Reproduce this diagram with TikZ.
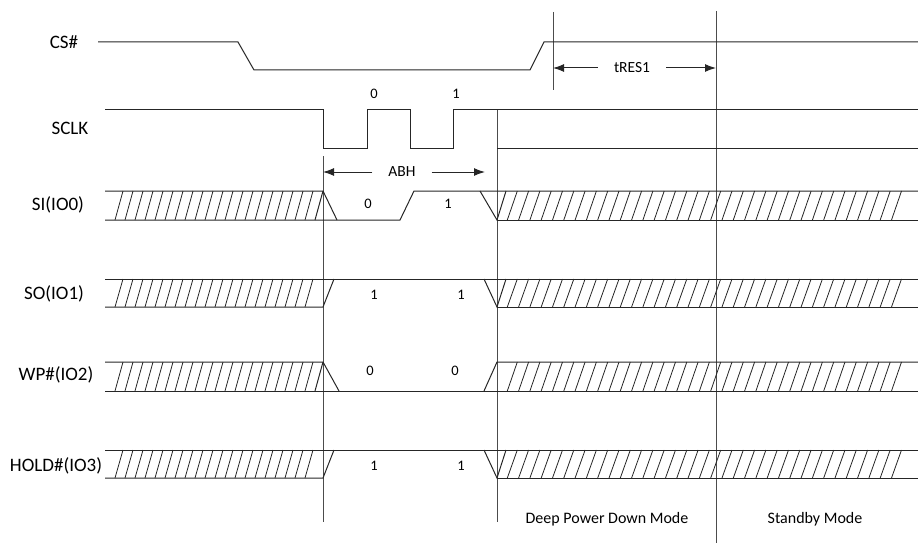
\documentclass[tikz,border=0pt]{standalone}
\usepackage{fontspec}
\setmainfont{Carlito}
\usetikzlibrary{arrows.meta, positioning}

\tikzset{
  sig/.style={line width=1pt, black!85},
  guide/.style={line width=1pt, black!70},
  hatchline/.style={line width=0.8pt, black!85},
  lbl/.style={font=\fontsize{19}{22}\selectfont, inner sep=0pt},
  bit/.style={font=\fontsize{14.5}{17}\selectfont, inner sep=0pt},
  note/.style={font=\fontsize{15.5}{18}\selectfont, inner ysep=0pt, inner xsep=16pt},
  mode/.style={font=\fontsize{16}{19}\selectfont, inner sep=0pt},
}

\begin{document}
\begin{tikzpicture}[x=1pt, y=-1pt, >={Latex[length=11pt,width=8pt]}]
  \useasboundingbox (0,0) rectangle (918,543);
  % Signal names
  \node[lbl] (cs)   at (64,42)  {CS\#};
  \node[lbl] (sclk) at (70,128) {SCLK};
  \node[lbl] (si)   at (58,205) {SI(IO0)};
  \node[lbl] (so)   at (54,294) {SO(IO1)};
  \node[lbl] (wp)   at (56,375) {WP\#(IO2)};
  \node[lbl] (hold) at (56,466) {HOLD\#(IO3)};
  % Guide lines
  \draw[guide] (323,156) coordinate (g1) -- (323,522);
  \draw[guide] (497,109) coordinate (g2) -- (497,522);
  \draw[guide] (553,12) coordinate (g3) -- (553,90);
  \draw[guide] (716,11) coordinate (g4) -- (716,543);
  % CS#
  \draw[sig] (98,42) -- (238,42) -- (254,70) -- (530,70) -- (544,42) -- (918,42);
  \node[note] (tres) at (632,68) {tRES1};
  \draw[sig, ->] (tres.west) -- (tres -| g3);
  \draw[sig, ->] (tres.east) -- (tres -| g4);
  % SCLK
  \draw[sig] (105,109) -- (323,109) -- (323,148) -- (367,148) -- (367,109)
    -- (410,109) -- (410,148) -- (453,148) -- (453,109) -- (918,109);
  \draw[sig] (497,148) -- (918,148);
  \node[bit] (c0) at (374,94) {0};
  \node[bit] (c1) at (456,94) {1};
  \node[note] (abh) at (402,172) {ABH};
  \coordinate (abhend) at (485,172);
  \draw[sig, ->] (abh.west) -- (abh -| g1);
  \draw[sig, ->] (abh.east) -- (abhend);
  % Hatched bus
  \foreach \t/\b in {191/220, 279/307, 362/391, 450/478} {
    \foreach \x in {115,125,...,305}
      \draw[hatchline] (\x,\b) -- (\x+8,\t);
    \foreach \k in {1,...,35}
      \draw[hatchline] (496+11.3*\k,\b) -- (506+11.3*\k,\t);
  }
  % SI(IO0)
  \draw[sig] (105,191) -- (323,191) -- (337,220);
  \draw[sig] (315,220) -- (323,191);
  \draw[sig] (105,220) -- (400,220) -- (414,191) -- (918,191);
  \draw[sig] (480,191) -- (497,220) -- (506,191);
  \draw[sig] (497,220) -- (918,220);
  \node[bit] (si0) at (368,204) {0};
  \node[bit] (si1) at (448,204) {1};
  % SO(IO1)
  \draw[sig] (105,279) -- (918,279);
  \draw[sig] (105,307) -- (323,307) -- (334,279);
  \draw[sig] (484,279) -- (497,307) -- (506,279);
  \draw[sig] (497,307) -- (918,307);
  \node[bit] (so0) at (374,295) {1};
  \node[bit] (so1) at (461,295) {1};
  % WP#(IO2)
  \draw[sig] (105,362) -- (323,362) -- (339,391);
  \draw[sig] (315,391) -- (323,362);
  \draw[sig] (105,391) -- (918,391);
  \draw[sig] (484,391) -- (497,362) -- (918,362);
  \node[bit] (wp0) at (370,371) {0};
  \node[bit] (wp1) at (455,371) {0};
  % HOLD#(IO3)
  \draw[sig] (105,450) -- (918,450);
  \draw[sig] (105,478) -- (323,478) -- (334,450);
  \draw[sig] (484,450) -- (497,478) -- (506,450);
  \draw[sig] (497,478) -- (918,478);
  \node[bit] (hold0) at (374,466) {1};
  \node[bit] (hold1) at (461,466) {1};
  % Modes
  \node[mode] (dpd)  at (607,519) {Deep Power Down Mode};
  \node[mode] (stby) at (815,519) {Standby Mode};
\end{tikzpicture}
\end{document}
